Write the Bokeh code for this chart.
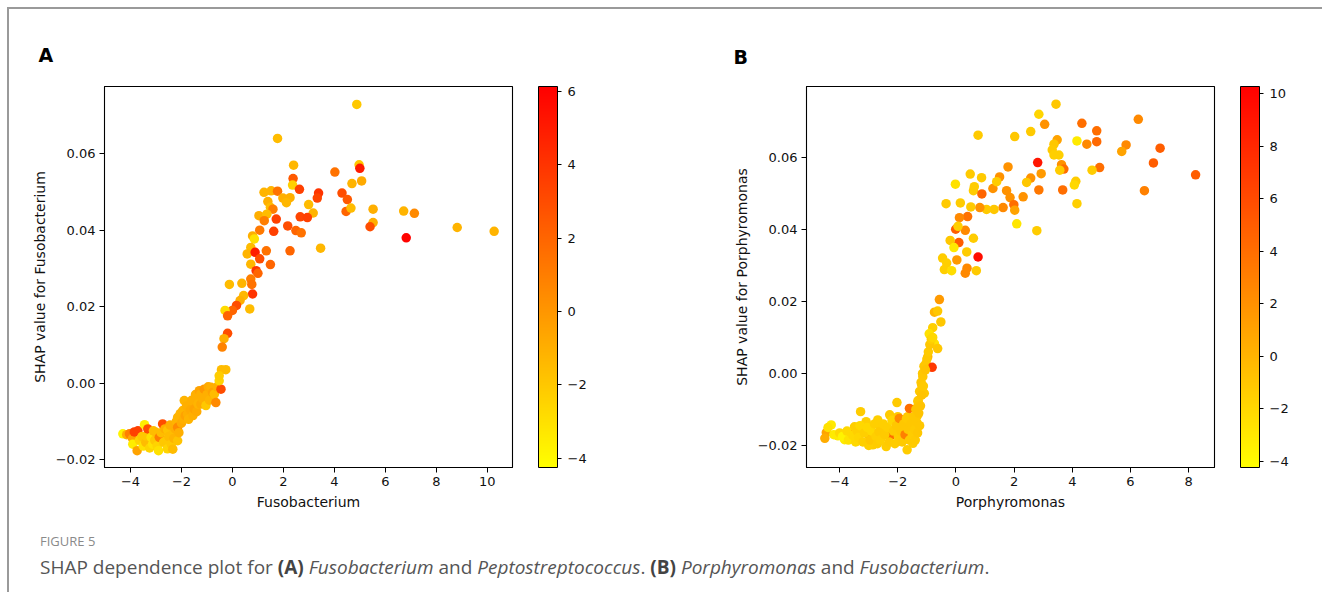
from bokeh.plotting import figure
from bokeh.models import (ColumnDataSource, LinearColorMapper, ColorBar, Label, Div,
                          FixedTicker, Range1d, CustomJSTickFormatter)
from bokeh.layouts import column, row
from bokeh.embed import file_html
from bokeh.resources import INLINE
import math

# ---------------- Panel A data: Fusobacterium (x), SHAP (y), Peptostreptococcus (color)
fuso_x = [4.88, 1.77, 2.40, 4.97, 5.00, 4.02, 2.38, 2.36, 4.69, 5.07, 2.63, 1.24, 1.52, 1.77,
          3.38, 3.33, 4.30, 4.51, 1.98, 2.26, 2.12, 1.39, 1.49, 1.59, 2.99, 3.17, 4.46, 4.65,
          5.52, 5.52, 5.40, 6.72, 7.14, 8.82, 10.27, 6.82, 1.72, 1.04, 1.35, 1.25, 1.07, 1.62,
          2.17, 2.49, 2.70, 2.66, 2.94, 3.46, 2.26, 1.33, 1.49, 0.79, 0.86, 0.72, 0.58, 0.89,
          1.07, 0.72, 0.93, 1.00, 0.72, 0.76, -0.12, 0.37, 0.79, 0.44, 0.30, 0.68, 0.16, 0.00,
          -0.29, -0.19, -0.19, -0.33, -0.40,
          -4.30, -4.15, -4.04, -3.92, -3.91, -3.85, -3.74, -3.71, -3.65, -3.55, -3.50, -3.45,
          -3.40, -3.39, -3.32, -3.25, -3.19, -3.13, -3.10, -3.05, -3.00, -2.95, -2.90, -2.87,
          -2.80, -2.74, -2.70, -2.65, -2.61, -2.55, -2.54, -2.50, -2.45, -2.40, -2.34, -2.34,
          -2.30, -2.25, -2.20, -2.15, -2.15, -2.15, -2.10, -2.05, -2.00, -1.95, -1.92, -1.89,
          -1.85, -1.80, -1.76, -1.72, -1.69, -1.65, -1.60, -1.55, -1.50, -1.45, -1.43, -1.40,
          -1.35, -1.30, -1.24, -1.24, -1.18, -1.11, -1.04, -1.00, -0.95, -0.90, -0.84, -0.78,
          -0.71, -0.65, -0.60, -0.45, -0.52, -0.43, -0.26, -0.52]
fuso_shap = [0.0729, 0.0640, 0.0570, 0.0571, 0.0562, 0.0552, 0.0535, 0.0518, 0.0522, 0.0529,
             0.0507, 0.0499, 0.0503, 0.0502, 0.0497, 0.0484, 0.0497, 0.0480, 0.0484, 0.0485,
             0.0472, 0.0475, 0.0460, 0.0455, 0.0467, 0.0445, 0.0449, 0.0458, 0.0455, 0.0420,
             0.0409, 0.0450, 0.0444, 0.0407, 0.0397, 0.0380, 0.0429, 0.0438, 0.0442, 0.0425,
             0.0400, 0.0397, 0.0411, 0.0399, 0.0393, 0.0435, 0.0433, 0.0353, 0.0346, 0.0346,
             0.0310, 0.0385, 0.0377, 0.0355, 0.0338, 0.0342, 0.0325, 0.0311, 0.0294, 0.0287,
             0.0272, 0.0258, 0.0258, 0.0261, 0.0233, 0.0229, 0.0216, 0.0194, 0.0203, 0.0190,
             0.0190, 0.0176, 0.0130, 0.0116, 0.0094,
             -0.0133, -0.0135, -0.0133, -0.0145, -0.0160, -0.0128, -0.0177, -0.0125, -0.0150,
             -0.0140, -0.0165, -0.0109, -0.0155, -0.0138, -0.0120, -0.0170, -0.0142, -0.0160,
             -0.0125, -0.0150, -0.0129, -0.0165, -0.0177, -0.0142, -0.0130, -0.0107, -0.0155,
             -0.0120, -0.0151, -0.0172, -0.0123, -0.0140, -0.0110, -0.0160, -0.0133, -0.0173,
             -0.0145, -0.0120, -0.0100, -0.0151, -0.0116, -0.0090, -0.0130, -0.0080, -0.0105,
             -0.0072, -0.0095, -0.0046, -0.0085, -0.0060, -0.0081, -0.0095, -0.0059, -0.0070,
             -0.0045, -0.0085, -0.0068, -0.0030, -0.0046, -0.0075, -0.0055, -0.0020, -0.0029,
             -0.0055, -0.0040, -0.0016, -0.0059, -0.0030, -0.0010, -0.0045, -0.0011, -0.0025,
             -0.0029, -0.0051, -0.0010, -0.0016, 0.0006, 0.0035, 0.0035, 0.0019]
pepto_val = [-2.0, -1.5, -1.3, -2.0, 5.0, 1.5, 2.5, -2.3, -1.2, -0.8, 3.5, -1.2, -1.2, 1.5,
             4.0, 3.3, 3.0, 2.5, -1.0, -1.0, -1.3, -1.0, -1.5, 1.0, -1.5, -1.2, 2.0, -1.5,
             -1.0, -1.0, 3.0, -1.2, 0.5, -1.2, -1.2, 6.0, 3.5, -1.0, -1.5, 1.0, 1.2, 3.5,
             3.0, 2.0, 1.5, 3.3, 3.5, -1.3, 2.0, 1.5, 2.0, -1.0, -3.0, -1.5, -1.2, 5.0,
             3.0, -1.3, 4.0, 2.0, 1.0, 1.5, -1.5, -1.2, 4.0, -1.3, -1.0, -1.5, 3.0, 2.0,
             -2.8, 2.0, 3.0, -1.0, 0.8,
             -3.8, -1.0, 1.0, -0.5, -3.5, 3.5, -0.5, 3.5, -2.5, -2.0, -3.0, -3.5, -1.5,
             -2.0, 3.0, -2.5, -3.0, -3.0, -1.5, -2.0, -1.5, -2.5, -3.0, 1.0, -1.5, 3.0,
             -2.0, -1.0, -2.0, -2.5, -1.8, -1.5, -1.0, -2.0, -1.5, -1.5, -1.2, -1.0, -1.2,
             -1.8, 0.5, -1.2, -1.0, -1.2, -0.8, -1.2, -1.0, -1.2, -0.5, -1.0, -1.0, -1.2,
             -1.0, -0.8, -1.0, -1.0, -0.5, -1.0, -1.0, -0.8, -1.2, -0.5, -1.0, -0.8, -1.0,
             0.0, -2.0, -1.0, -0.8, -1.2, -1.0, -0.5, -1.5, 0.5, -1.0, 3.0, -2.5, -1.5,
             -1.5, -2.2]

# ---------------- Panel B data: Porphyromonas (x), SHAP (y), Fusobacterium (color)
porph_x = [3.44, 2.85, 3.05, 4.33, 4.84, 4.84, 6.27, 0.76, 2.02, 2.57, 3.48, 3.37, 4.16, 4.50,
           5.85, 5.70, 7.02, 3.31, 3.54, 3.37, 2.81, 2.93, 3.63, 3.71, 3.57, 4.94, 4.68, 6.79,
           8.24, 6.48, 4.12, 4.07, 3.67, 2.85, 4.16, 2.78, 2.09, 1.79, 1.50, 2.57, 2.43, 2.31,
           1.74, 1.86, 1.99, 2.02, 1.62, 1.31, 1.05, 0.82, 0.51, 0.15, -0.34, -0.02, 0.49,
           0.88, 0.63, 0.60, 1.27, 0.89, 1.40, 0.40, 0.12, -0.01, 0.32, 0.07, 0.10, -0.20,
           0.60, -0.07, 0.37, 0.76, 0.03, -0.46, -0.32, -0.40, -0.15, 0.38, 0.32, 0.70,
           -0.57, -0.74, -0.63, -0.52, -0.80, -0.92, -0.74, -0.63, -0.97, -1.03, -0.82, -1.14,
           -1.18, -1.09, -1.31, -2.03, -1.37, -1.31, -3.28, -4.29, -4.46, -4.51, -4.06, -3.83,
           -3.60, -3.49, -3.09, -2.97, -2.86, -2.69, -2.57, -2.40, -2.23, -2.28, -2.00, -1.88,
           -1.68, -1.54, -1.48, -1.66, -1.60,
           -4.40, -4.20, -4.00, -3.90, -3.75, -3.70, -3.55, -3.45, -3.40, -3.35, -3.30, -3.20,
           -3.15, -3.05, -3.00, -2.95, -2.90, -2.80, -2.75, -2.70, -2.65, -2.60, -2.50, -2.45,
           -2.35, -2.30, -2.20, -2.15, -2.10, -2.05, -1.98, -1.95, -1.90, -1.85, -1.80, -1.75,
           -1.70, -1.65, -1.60, -1.55, -1.50, -1.45, -1.42, -1.40, -1.38, -1.35, -1.32, -1.30,
           -1.28, -1.25, -1.25, -1.22, -1.20, -1.18, -1.15, -1.12, -1.10, -1.05, -1.00, -0.95,
           -0.90, -0.85, -0.80]
porph_shap = [0.0747, 0.0719, 0.0691, 0.0694, 0.0673, 0.0643, 0.0705, 0.0661, 0.0657, 0.0671,
              0.0648, 0.0636, 0.0645, 0.0636, 0.0634, 0.0616, 0.0625, 0.0620, 0.0606, 0.0606,
              0.0585, 0.0554, 0.0579, 0.0567, 0.0564, 0.0571, 0.0564, 0.0584, 0.0551, 0.0507,
              0.0533, 0.0523, 0.0509, 0.0509, 0.0471, 0.0396, 0.0415, 0.0573, 0.0545, 0.0542,
              0.0530, 0.0490, 0.0507, 0.0488, 0.0468, 0.0453, 0.0460, 0.0455, 0.0455, 0.0460,
              0.0462, 0.0473, 0.0471, 0.0525, 0.0553, 0.0543, 0.0518, 0.0507, 0.0513, 0.0498,
              0.0532, 0.0435, 0.0432, 0.0400, 0.0397, 0.0408, 0.0363, 0.0369, 0.0375, 0.0349,
              0.0337, 0.0323, 0.0315, 0.0320, 0.0306, 0.0288, 0.0285, 0.0292, 0.0278, 0.0285,
              0.0205, 0.0170, 0.0173, 0.0143, 0.0127, 0.0110, 0.0083, 0.0069, 0.0046, 0.0028,
              0.0017, -0.0009, -0.0032, -0.0055, -0.0078, -0.0081, -0.0097, -0.0115, -0.0106,
              -0.0143, -0.0164, -0.0180, -0.0173, -0.0184, -0.0166, -0.0148, -0.0134, -0.0175,
              -0.0198, -0.0129, -0.0152, -0.0203, -0.0171, -0.0115, -0.0120, -0.0147, -0.0212,
              -0.0166, -0.0194, -0.0120, -0.0097,
              -0.0150, -0.0170, -0.0165, -0.0175, -0.0160, -0.0185, -0.0172, -0.0190, -0.0160,
              -0.0178, -0.0145, -0.0190, -0.0165, -0.0150, -0.0200, -0.0185, -0.0160, -0.0140,
              -0.0175, -0.0195, -0.0162, -0.0185, -0.0140, -0.0170, -0.0150, -0.0190, -0.0130,
              -0.0160, -0.0195, -0.0145, -0.0175, -0.0125, -0.0160, -0.0190, -0.0140, -0.0170,
              -0.0125, -0.0155, -0.0185, -0.0140, -0.0170, -0.0120, -0.0155, -0.0185, -0.0100,
              -0.0135, -0.0165, -0.0075, -0.0110, -0.0050, -0.0145, -0.0090, -0.0025, -0.0060,
              0.0000, -0.0035, 0.0020, 0.0010, 0.0040, 0.0060, 0.0080, 0.0095, 0.0100]
fuso_val = [-1.0, -1.8, 2.0, 4.0, 4.0, 4.3, 2.5, -1.2, -1.0, -1.2, 1.0, -1.0, -3.0, 2.5,
            2.5, 1.0, 5.0, -1.2, -1.5, -1.5, 9.0, 1.5, 2.0, 4.0, -1.3, 4.0, -1.3, 5.0,
            5.0, 3.0, -1.3, -2.0, 4.0, 3.5, -1.5, -1.3, -2.8, 2.0, 2.0, 2.0, -1.0, 2.0,
            2.0, 2.0, 4.0, 1.0, 2.5, -1.0, -1.2, 2.0, -1.2, -1.3, -1.2, -2.5, -1.2, -1.2,
            -1.3, -1.3, 2.0, 4.5, -1.3, 3.8, 2.5, 5.0, 2.5, -1.5, 5.0, -1.0, -1.3, -3.0,
            -1.3, 9.5, 1.5, -1.3, -1.5, -1.5, -2.3, 2.5, 2.5, -1.2,
            1.5, 0.0, -1.0, -1.0, -1.5, -2.5, -2.5, -1.0, 0.0, -1.0, 7.0, -1.0,
            -1.0, -1.0, -1.5, -1.2, -1.0, -1.0, -1.3, -3.0, 1.0, 0.5, -3.0, -3.0,
            4.0, -1.5, -1.5, 0.0, -1.3, -1.5, -1.5, -1.3, 4.0, -1.2, -1.2, -1.2,
            -1.3, 1.5, -1.3, -1.0, 4.0,
            -2.5, -3.0, -2.0, -3.5, -2.0, -2.5, -2.0, -2.0, -1.5, -1.8, -2.0, -1.5,
            -1.5, -2.0, -1.5, -1.0, -2.0, -1.5, -1.5, -1.3, -1.2, -1.5, -1.5, -1.2,
            -1.5, -1.2, -1.8, -1.2, -1.3, -1.0, -1.3, 2.5, -1.0, -1.2, -1.0, 3.0,
            -1.2, -1.0, -1.2, -1.0, -1.3, -1.0, -1.2, -1.2, -0.8, -1.0, -1.0, -1.0,
            -0.8, -1.0, -1.0, -0.8, -1.0, -0.8, -1.0, -1.2, -1.0, -0.8, -1.0, -1.2,
            -1.0, -1.5, -2.0]

# ---------------- axis settings (tick values, labels)
a_xticks = [-4, -2, 0, 2, 4, 6, 8, 10]
b_xticks = [-4, -2, 0, 2, 4, 6, 8]
shap_ticks = [-0.02, 0.0, 0.02, 0.04, 0.06]
a_cticks = [-4, -2, 0, 2, 4, 6]
b_cticks = [-4, -2, 0, 2, 4, 6, 8, 10]

# autumn_r colormap: yellow (low) -> red (high)
autumn_r = ["#ff%02x00" % (255 - i) for i in range(256)]

FONT = "DejaVu Sans"
FS = "13px"
LFS = "14px"
FRAME_W, FRAME_H = 408, 381

int_fmt = CustomJSTickFormatter(code="""
  const s = Math.abs(tick).toFixed(0);
  return (tick < -1e-9 ? '\u2212' : '') + s;""")
dec_fmt = CustomJSTickFormatter(code="""
  const s = Math.abs(tick).toFixed(2);
  return (tick < -1e-9 ? '\u2212' : '') + s;""")


def make_panel(letter, letter_dx, letter_so, xs, ys, cs, xr, yr, crange, xticks, cticks,
               xlabel, ylabel, clabel, width, left, right):
    p = figure(width=width, height=510, output_backend="svg", toolbar_location=None,
               x_range=Range1d(*xr), y_range=Range1d(*yr),
               min_border_left=left, min_border_right=right,
               min_border_top=77, min_border_bottom=52)
    p.grid.visible = False
    p.outline_line_color = "black"
    p.outline_line_width = 1.1
    p.background_fill_color = "white"
    p.border_fill_color = "white"

    p.title.text = letter
    p.title.align = "left"
    p.title.offset = letter_dx
    p.title.standoff = letter_so
    p.title.text_font = FONT
    p.title.text_font_size = "19px"
    p.title.text_font_style = "bold"
    p.title.text_color = "black"

    mapper = LinearColorMapper(palette=autumn_r, low=crange[0], high=crange[1])
    src = ColumnDataSource(dict(x=xs, y=ys, c=cs))
    p.scatter("x", "y", source=src, size=9.5, line_color=None,
              fill_color={"field": "c", "transform": mapper})

    for ax in (p.xaxis[0], p.yaxis[0]):
        ax.axis_line_color = "black"
        ax.major_tick_line_color = "black"
        ax.major_tick_in = 0
        ax.major_tick_out = 5
        ax.minor_tick_line_color = None
        ax.major_label_text_font = FONT
        ax.major_label_text_font_size = FS
        ax.major_label_text_color = "#111111"
        ax.axis_label_text_font = FONT
        ax.axis_label_text_font_size = LFS
        ax.axis_label_text_font_style = "normal"
        ax.axis_label_text_color = "#111111"
        ax.major_label_standoff = 4
        ax.axis_label_standoff = 5
    p.xaxis.ticker = FixedTicker(ticks=xticks)
    p.xaxis.formatter = int_fmt
    p.yaxis.ticker = FixedTicker(ticks=shap_ticks)
    p.yaxis.formatter = dec_fmt
    p.xaxis.axis_label = xlabel
    p.yaxis.axis_label = ylabel

    cb = ColorBar(color_mapper=mapper, location=(FRAME_W + 26, 0), width=19, height=FRAME_H,
                  padding=0, margin=0, orientation="vertical",
                  ticker=FixedTicker(ticks=cticks), formatter=int_fmt,
                  bar_line_color="black", bar_line_width=1,
                  major_tick_in=0, major_tick_out=4, major_tick_line_color="black",
                  minor_tick_line_color=None, label_standoff=6,
                  major_label_text_font=FONT, major_label_text_font_size=FS,
                  major_label_text_color="#111111",
                  background_fill_alpha=0, border_line_color=None)
    p.add_layout(cb, "center")

    p.add_layout(Label(x=FRAME_W + 88, y=FRAME_H / 2, x_units="screen", y_units="screen",
                       text=clabel, angle=math.pi / 2, text_align="center",
                       text_baseline="middle", text_font=FONT, text_font_size=LFS,
                       text_color="#111111"))
    return p


pA = make_panel("A", -66, 41, fuso_x, fuso_shap, pepto_val, (-5.02, 10.99), (-0.0221, 0.0776),
                (-4.25, 6.13), a_xticks, a_cticks, "Fusobacterium",
                "SHAP value for Fusobacterium", "Peptostreptococcus", 696, 95, 193)
pB = make_panel("B", -73, 37, porph_x, porph_shap, fuso_val, (-5.14, 8.89), (-0.0261, 0.0796),
                (-4.23, 10.28), b_xticks, b_cticks, "Porphyromonas",
                "SHAP value for Porphyromonas", "Fusobacterium", 617, 101, 108)

caption = Div(text="""
<div style="font-family:'Open Sans',sans-serif;padding-left:31px;">
<div style="font-size:13px;color:#8a8a8a;line-height:18px;margin-top:13px;">FIGURE 5</div>
<div style="font-size:19px;color:#555555;line-height:24px;margin-top:5px;white-space:nowrap;">SHAP dependence plot for <b style="color:#444">(A)</b> <i>Fusobacterium</i> and <i>Peptostreptococcus</i>. <b style="color:#444">(B)</b> <i>Porphyromonas</i> and <i>Fusobacterium</i>.</div>
</div>""", width=1311, height=73, margin=0)

layout = column(row(pA, pB, spacing=0), caption, spacing=0, margin=(7, 0, 0, 7),
                styles={"border-top": "2px solid #9a9a9a", "border-left": "2px solid #9a9a9a"})

open("out.html", "w").write(file_html(layout, INLINE))
